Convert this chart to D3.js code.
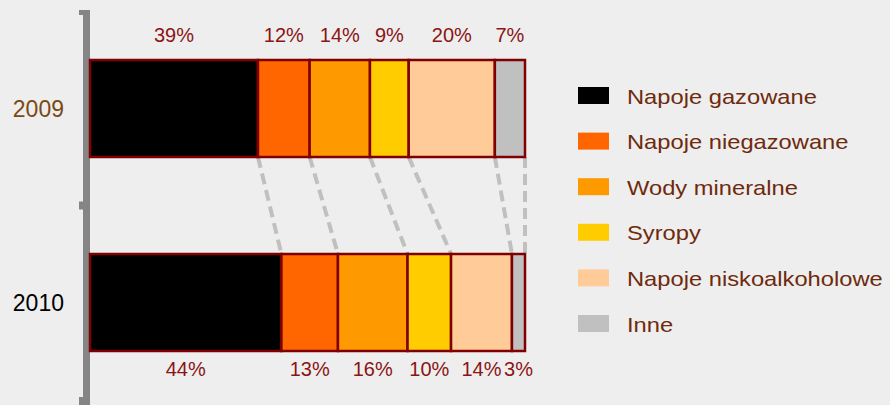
<!DOCTYPE html>
<html>
<head>
<meta charset="utf-8">
<script src="https://cdn.jsdelivr.net/npm/d3@7"></script>
<style>
  html, body { margin: 0; padding: 0; background: #eeeeee; }
  svg { display: block; font-family: Arial, "Liberation Sans", sans-serif; }
</style>
</head>
<body>
<svg id="chart"></svg>
<script>
const years = ["2009", "2010"];
const categories = ["Napoje gazowane", "Napoje niegazowane", "Wody mineralne", "Syropy", "Napoje niskoalkoholowe", "Inne"];
const values2009 = [39, 12, 14, 9, 20, 7];
const values2010 = [44, 13, 16, 10, 14, 3];
const colors = ["#000000", "#ff6600", "#ff9900", "#ffcc00", "#ffcc99", "#c0c0c0"];

const width = 890;
const height = 405;

const svg = d3.select("#chart")
  .attr("width", width)
  .attr("height", height);

svg.append("rect")
  .attr("width", width)
  .attr("height", height)
  .attr("fill", "#eeeeee");

// stack each year into shares of its own total
function stackRow(vals) {
  const total = d3.sum(vals);
  let acc = 0;
  return vals.map((v, i) => {
    const d = { cat: categories[i], value: v, x0: acc / total, x1: (acc + v) / total };
    acc += v;
    return d;
  });
}
const rows = [
  { year: years[0], segs: stackRow(values2009) },
  { year: years[1], segs: stackRow(values2010) }
];

const xScale = d3.scaleLinear().domain([0, 1]).range([90, 525]);
const yScale = d3.scaleBand().domain(years).range([60, 351]).paddingInner(0.5);
const colorScale = d3.scaleOrdinal().domain(categories).range(colors);

// bracket-like axis on the left
const axisTop = 10, axisBottom = 405;
const mid = (yScale(years[0]) + yScale.bandwidth() + yScale(years[1])) / 2;
const ax = xScale(0) - 4;
const axisG = svg.append("g").attr("fill", "#858585");
axisG.append("rect").attr("x", ax - 3).attr("y", axisTop).attr("width", 7).attr("height", axisBottom - axisTop);
axisG.append("rect").attr("x", ax - 7).attr("y", axisTop).attr("width", 8).attr("height", 5);
axisG.append("rect").attr("x", ax - 7).attr("y", mid - 4).attr("width", 5).attr("height", 8);
axisG.append("rect").attr("x", ax - 7).attr("y", axisBottom - 8).attr("width", 5).attr("height", 8);

// dashed connectors between segment boundaries
const upperSegs = rows[0].segs, lowerSegs = rows[1].segs;
const yUpperBottom = yScale(years[0]) + yScale.bandwidth();
const yLowerTop = yScale(years[1]);
svg.append("g")
  .selectAll("line")
  .data(d3.range(upperSegs.length))
  .join("line")
  .attr("x1", i => xScale(upperSegs[i].x1))
  .attr("y1", yUpperBottom)
  .attr("x2", i => xScale(lowerSegs[i].x1))
  .attr("y2", yLowerTop)
  .attr("stroke", "#c0c0c0")
  .attr("stroke-width", 4)
  .attr("stroke-dasharray", "11,6");

// bars
const barG = svg.append("g")
  .selectAll("g")
  .data(rows)
  .join("g");

barG.selectAll("rect")
  .data(d => d.segs.map(s => ({ ...s, year: d.year })))
  .join("rect")
  .attr("x", d => xScale(d.x0))
  .attr("y", d => yScale(d.year))
  .attr("width", d => xScale(d.x1) - xScale(d.x0))
  .attr("height", yScale.bandwidth())
  .attr("fill", d => colorScale(d.cat))
  .attr("stroke", "#800000")
  .attr("stroke-width", 2.5);

// percentage labels: above for 2009, below for 2010
barG.selectAll("text")
  .data(d => d.segs.map(s => ({ ...s, year: d.year })))
  .join("text")
  .attr("x", d => xScale((d.x0 + d.x1) / 2))
  .attr("y", d => d.year === years[0] ? yScale(d.year) - 18 : yScale(d.year) + yScale.bandwidth() + 25)
  .attr("text-anchor", "middle")
  .attr("font-size", 20)
  .attr("fill", "#8b1414")
  .text(d => d.value + "%");

// year labels
svg.append("g")
  .selectAll("text")
  .data(years)
  .join("text")
  .attr("x", 64)
  .attr("y", d => yScale(d) + yScale.bandwidth() / 2)
  .attr("dy", "0.35em")
  .attr("text-anchor", "end")
  .attr("font-size", 23)
  .attr("fill", (d, i) => i === 0 ? "#7a4a12" : "#000000")
  .text(d => d);

// legend
const legend = svg.append("g")
  .selectAll("g")
  .data(categories)
  .join("g")
  .attr("transform", (d, i) => `translate(578, ${87 + i * 45.6})`);

legend.append("rect")
  .attr("width", 31)
  .attr("height", 17)
  .attr("fill", d => colorScale(d));

legend.append("text")
  .attr("transform", "translate(49, 16.5) scale(1.13, 1)")
  .attr("font-size", 21)
  .attr("fill", "#6e2a0c")
  .text(d => d);
</script>
</body>
</html>
